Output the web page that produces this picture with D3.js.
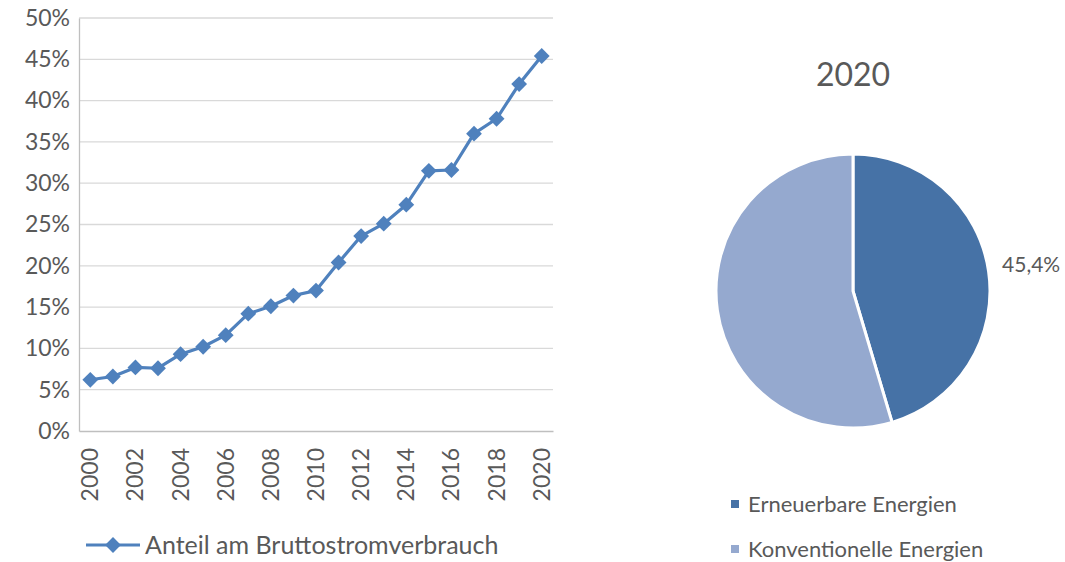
<!DOCTYPE html>
<html lang="de">
<head>
<meta charset="UTF-8">
<title>Anteil erneuerbarer Energien am Bruttostromverbrauch</title>
<script src="https://d3js.org/d3.v7.min.js"></script>
<style>
  body { margin: 0; background: #fff; }
  svg, svg text { font-family: Lato, "Open Sans", sans-serif; }
  .grid line { stroke: #d9d9d9; stroke-width: 1.3; }
  .axis text { fill: #595959; font-family: Lato, "Open Sans", sans-serif; }
  .axis path, .axis line { stroke: #bfbfbf; }
</style>
</head>
<body>
<script>
const years = d3.range(2000, 2021);
const shares = [6.2, 6.6, 7.7, 7.6, 9.3, 10.2, 11.6, 14.2, 15.1, 16.4, 17.0,
                20.4, 23.6, 25.1, 27.4, 31.5, 31.6, 36.0, 37.8, 42.0, 45.4];
const yTicks = [0, 5, 10, 15, 20, 25, 30, 35, 40, 45, 50];
const xTickYears = [2000, 2002, 2004, 2006, 2008, 2010, 2012, 2014, 2016, 2018, 2020];
const lineLegend = "Anteil am Bruttostromverbrauch";

const pieTitle = "2020";
const pieLabels = ["Erneuerbare Energien", "Konventionelle Energien"];
const pieValues = [45.4, 54.6];
const pieColors = ["#4672a6", "#95a9cf"];

const W = 1065, H = 562;
const lineBlue = "#4f81bd";
const textCol = "#595959";

const svg = d3.select("body").append("svg")
  .attr("width", W).attr("height", H);

// ---- line chart ----
const plot = { left: 79, right: 553, top: 18, bottom: 431 };

const x = d3.scaleBand()
  .domain(years)
  .range([plot.left, plot.right]);
const y = d3.scaleLinear()
  .domain([0, 50])
  .range([plot.bottom, plot.top]);

svg.append("g")
  .attr("class", "grid")
  .selectAll("line")
  .data(yTicks.filter(d => d > 0))
  .join("line")
  .attr("x1", plot.left).attr("x2", plot.right)
  .attr("y1", d => y(d)).attr("y2", d => y(d));

// y axis labels
const yAxis = svg.append("g")
  .attr("class", "axis")
  .attr("transform", `translate(${plot.left},0)`)
  .call(d3.axisLeft(y).tickValues(yTicks).tickSize(0).tickPadding(9).tickFormat(d => d + "%"));
yAxis.attr("font-family", null);
yAxis.select(".domain").attr("stroke-width", 1.3);
yAxis.selectAll("text").style("font-size", "23px");

// x axis
const xAxis = svg.append("g")
  .attr("class", "axis")
  .attr("transform", `translate(0,${plot.bottom})`)
  .call(d3.axisBottom(x).tickValues(xTickYears).tickSize(0).tickFormat(d3.format("d")));
xAxis.attr("font-family", null);
xAxis.select(".domain").attr("stroke-width", 1.3);
xAxis.selectAll("text")
  .style("font-size", "23px")
  .attr("text-anchor", "end")
  .attr("transform", "rotate(-90)")
  .attr("x", -17)
  .attr("y", 0)
  .attr("dy", "0.35em");

const cx = d => x(d) + x.bandwidth() / 2;
const pts = years.map((yr, i) => ({ year: yr, v: shares[i] }));

svg.append("path")
  .datum(pts)
  .attr("fill", "none")
  .attr("stroke", lineBlue)
  .attr("stroke-width", 3.2)
  .attr("stroke-linejoin", "round")
  .attr("d", d3.line().x(d => cx(d.year)).y(d => y(d.v)));

const diamond = d3.symbol().type(d3.symbolSquare).size(125);
svg.append("g")
  .selectAll("path")
  .data(pts)
  .join("path")
  .attr("fill", lineBlue)
  .attr("transform", d => `translate(${cx(d.year)},${y(d.v)}) rotate(45)`)
  .attr("d", diamond);

// legend of line chart
const lg = svg.append("g").attr("transform", "translate(86,545)");
lg.append("line").attr("x1", 0).attr("x2", 54)
  .attr("stroke", lineBlue).attr("stroke-width", 3.2);
lg.append("path").attr("transform", "translate(27,0) rotate(45)")
  .attr("fill", lineBlue).attr("d", diamond);
lg.append("text").attr("x", 59).attr("dy", "0.35em")
  .attr("fill", textCol).style("font-size", "25px")
  .text(lineLegend);

// ---- pie chart ----
const pc = { x: 853, y: 291, r: 137 };
const pieData = d3.pie().sort(null)(pieValues);
const arc = d3.arc().innerRadius(0).outerRadius(pc.r);
const labelArc = d3.arc().innerRadius(180).outerRadius(180);

svg.append("text")
  .attr("x", pc.x).attr("y", 86)
  .attr("text-anchor", "middle")
  .attr("fill", textCol)
  .style("font-size", "32px")
  .text(pieTitle);

const pg = svg.append("g").attr("transform", `translate(${pc.x},${pc.y})`);
pg.selectAll("path")
  .data(pieData)
  .join("path")
  .attr("d", arc)
  .attr("fill", (d, i) => pieColors[i])
  .attr("stroke", "#fff")
  .attr("stroke-width", 3);

pg.append("text")
  .attr("transform", `translate(${labelArc.centroid(pieData[0])})`)
  .attr("text-anchor", "middle")
  .attr("dy", "0.35em")
  .attr("fill", textCol)
  .style("font-size", "21px")
  .text(d3.format(".1f")(pieValues[0]).replace(".", ",") + "%");

const pl = svg.append("g").attr("transform", "translate(731,504)");
pieLabels.forEach((lab, i) => {
  const row = pl.append("g").attr("transform", `translate(0,${i * 45})`);
  row.append("rect").attr("x", 0).attr("y", -4).attr("width", 8).attr("height", 8)
    .attr("fill", pieColors[i]);
  row.append("text").attr("x", 17).attr("dy", "0.35em")
    .attr("fill", textCol).style("font-size", "22px")
    .text(lab);
});
</script>
</body>
</html>
